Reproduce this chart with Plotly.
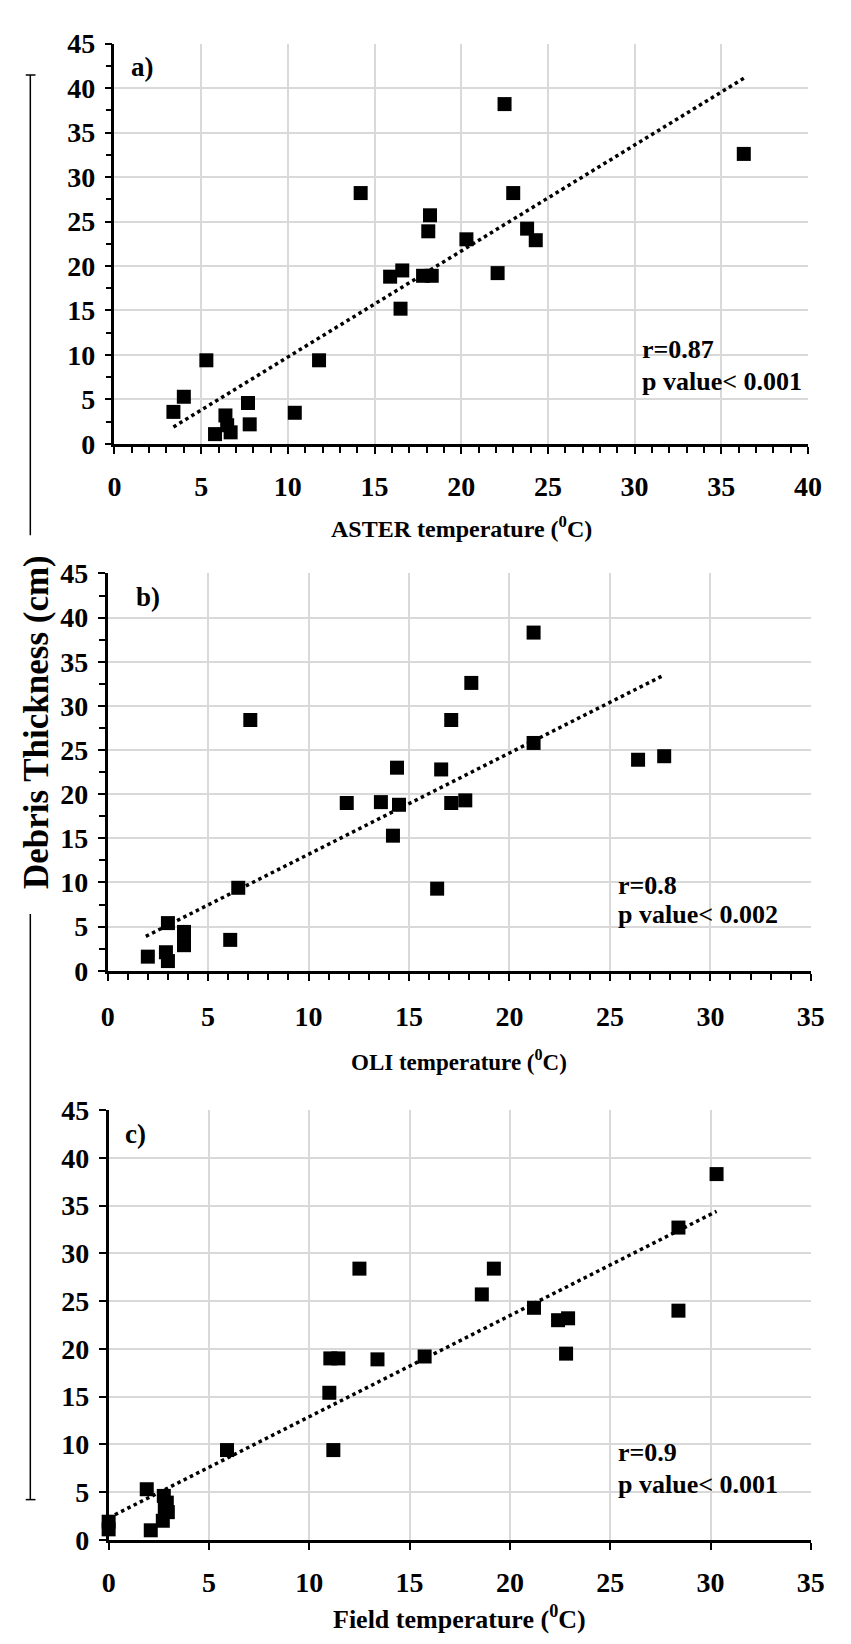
import plotly.graph_objects as go

W, H = 851, 1644

# ---- data ----
a_x = [3.4, 4.0, 5.3, 5.8, 6.4, 6.5, 6.7, 7.7, 7.8, 10.4, 11.8, 14.2, 15.9, 16.6, 16.5,
       17.8, 18.3, 18.1, 18.2, 20.3, 22.1, 22.5, 23.0, 23.8, 24.3, 36.3]
a_y = [3.6, 5.3, 9.4, 1.1, 3.2, 2.1, 1.3, 4.6, 2.2, 3.5, 9.4, 28.2, 18.8, 19.5, 15.2,
       18.9, 18.9, 23.9, 25.7, 23.0, 19.2, 38.2, 28.2, 24.2, 22.9, 32.6]
a_trend_x = [3.4, 36.3]
a_trend_y = [1.9, 41.1]

b_x = [2.0, 2.9, 3.0, 3.0, 3.8, 3.8, 6.1, 6.5, 7.1, 11.9, 13.6, 14.5, 14.4, 14.2,
       16.6, 16.4, 17.1, 17.1, 17.8, 18.1, 21.2, 21.2, 26.4, 27.7]
b_y = [1.6, 2.1, 1.1, 5.4, 4.4, 2.9, 3.5, 9.4, 28.4, 19.0, 19.1, 18.8, 23.0, 15.3,
       22.8, 9.3, 28.4, 19.0, 19.3, 32.6, 38.3, 25.8, 23.9, 24.3]
b_trend_x = [1.9, 27.7]
b_trend_y = [3.9, 33.5]

c_x = [0.0, 0.0, 2.1, 1.9, 2.75, 2.9, 2.8, 2.95, 2.7, 5.9, 11.0, 11.2, 11.05, 11.45,
       12.5, 13.4, 15.75, 18.6, 19.2, 21.2, 22.4, 22.9, 22.8, 28.4, 28.4, 30.3]
c_y = [1.1, 1.9, 1.0, 5.3, 4.6, 3.9, 3.3, 2.9, 2.0, 9.4, 15.4, 9.4, 19.0, 19.0,
       28.4, 18.9, 19.2, 25.7, 28.4, 24.3, 23.0, 23.2, 19.5, 32.7, 24.0, 38.3]
c_trend_x = [0.0, 30.3]
c_trend_y = [2.3, 34.4]

panel_labels = ["a)", "b)", "c)"]
x_titles = ["ASTER temperature (<sup>0</sup>C)", "OLI temperature (<sup>0</sup>C)",
            "Field temperature (<sup>0</sup>C)"]
r_texts = ["r=0.87", "r=0.8", "r=0.9"]
p_texts = ["p value< 0.001", "p value< 0.002", "p value< 0.001"]
y_title = "Debris Thickness (cm)"
x_ranges = [[0, 40], [0, 35], [0, 35]]
y_range = [0, 45]
y_ticks = [0, 5, 10, 15, 20, 25, 30, 35, 40, 45]
x_ticks = [[0, 5, 10, 15, 20, 25, 30, 35, 40], [0, 5, 10, 15, 20, 25, 30, 35],
           [0, 5, 10, 15, 20, 25, 30, 35]]

FONT = "Liberation Serif"
TICK_SIZE = 28

# ---- layout geometry (pixels) ----
# (left, right, top, bottom)
boxes = [(102, 813, 21, 429), (95, 816, 561, 966), (96, 816, 1108, 1546)]


def px_x(p):
    return p / W


def px_y(p):
    return 1 - p / H


fig = go.Figure()

series = [(a_x, a_y, a_trend_x, a_trend_y), (b_x, b_y, b_trend_x, b_trend_y),
          (c_x, c_y, c_trend_x, c_trend_y)]

for i, (sx, sy, tx, ty) in enumerate(series):
    xa = "x" if i == 0 else f"x{i+1}"
    ya = "y" if i == 0 else f"y{i+1}"
    fig.add_trace(go.Scatter(x=tx, y=ty, mode="lines", xaxis=xa, yaxis=ya,
                             line=dict(color="black", width=3.5, dash="dot"),
                             showlegend=False, hoverinfo="skip"))
    fig.add_trace(go.Scatter(x=sx, y=sy, mode="markers", xaxis=xa, yaxis=ya,
                             marker=dict(symbol="square", size=14, color="black",
                                         line=dict(width=0)),
                             cliponaxis=False, showlegend=False))

fig.update_layout(width=W, height=H, margin=dict(l=0, r=0, t=0, b=0),
                  paper_bgcolor="white", plot_bgcolor="white",
                  font=dict(family=FONT, color="black", size=TICK_SIZE))

x_standoffs = [9, 12, 9]
x_title_y = [514, 1057, 1625]
x_title_size = [24, 23, 26]
annotations = []
shapes = []

for i, (l, r, t, b) in enumerate(boxes):
    ya_name = "y" if i == 0 else f"y{i+1}"
    xa_name = "x" if i == 0 else f"x{i+1}"
    minor = (i < 2)
    xax = dict(domain=[px_x(l), px_x(r)], range=x_ranges[i], anchor=ya_name,
               showgrid=True, gridcolor="#d9d9d9", gridwidth=2, zeroline=False,
               showline=True, linecolor="black", linewidth=2.5,
               ticks="outside", ticklen=7, tickwidth=2, tickcolor="black",
               tickmode="array", tickvals=x_ticks[i],
               ticktext=[f"<b>{v}</b>" for v in x_ticks[i]],
               tickfont=dict(family=FONT, size=TICK_SIZE, color="black"),
               ticklabelstandoff=x_standoffs[i], fixedrange=True)
    yax = dict(domain=[px_y(b), px_y(t)], range=y_range, anchor=xa_name,
               showgrid=True, gridcolor="#d9d9d9", gridwidth=2, zeroline=False,
               showline=True, linecolor="black", linewidth=2.5,
               ticks="outside", ticklen=7, tickwidth=2, tickcolor="black",
               tickmode="array", tickvals=y_ticks,
               ticktext=[f"<b>{v}</b>" for v in y_ticks],
               tickfont=dict(family=FONT, size=TICK_SIZE, color="black"),
               ticklabelstandoff=4, fixedrange=True)
    if minor:
        xax["minor"] = dict(dtick=1, tick0=0, ticks="outside", ticklen=6,
                            tickwidth=2, tickcolor="black", showgrid=False)
        yax["minor"] = dict(dtick=2.5, tick0=0, ticks="outside", ticklen=6,
                            tickwidth=2, tickcolor="black", showgrid=False)
    if i == 0:
        fig.update_layout(xaxis=xax, yaxis=yax)
    else:
        fig.update_layout(**{f"xaxis{i+1}": xax, f"yaxis{i+1}": yax})

    # x title
    annotations.append(dict(text="<b>" + x_titles[i] + "</b>", xref="paper", yref="paper",
                            x=px_x((l + r) / 2), y=px_y(x_title_y[i]),
                            xanchor="center", yanchor="middle", showarrow=False,
                            font=dict(family=FONT, size=x_title_size[i])))
    # panel label
    annotations.append(dict(text="<b>" + panel_labels[i] + "</b>", xref="paper", yref="paper",
                            x=px_x(l + 15 if i != 1 else l + 27), y=px_y(t + 24),
                            xanchor="left", yanchor="middle", showarrow=False,
                            font=dict(family=FONT, size=27)))

r_pos = [(30.3, 10.6, 7.0), (25.3, 9.7, 6.4), (25.3, 9.1, 5.8)]
for i, (rx, ry, py) in enumerate(r_pos):
    xa_name = "x" if i == 0 else f"x{i+1}"
    ya_name = "y" if i == 0 else f"y{i+1}"
    annotations.append(dict(text="<b>" + r_texts[i] + "</b>", xref=xa_name, yref=ya_name,
                            x=rx, y=ry, xanchor="left", yanchor="middle", showarrow=False,
                            font=dict(family=FONT, size=26)))
    annotations.append(dict(text="<b>" + p_texts[i] + "</b>", xref=xa_name, yref=ya_name,
                            x=rx, y=py, xanchor="left", yanchor="middle", showarrow=False,
                            font=dict(family=FONT, size=26)))

# y title
annotations.append(dict(text="<b>" + y_title + "</b>", xref="paper", yref="paper",
                        x=px_x(22), y=px_y(712), xanchor="center", yanchor="middle",
                        textangle=-90, showarrow=False, font=dict(family=FONT, size=35)))


# bracket decoration
def pline(x0, y0, x1, y1):
    shapes.append(dict(type="line", xref="paper", yref="paper",
                       x0=px_x(x0), y0=px_y(y0), x1=px_x(x1), y1=px_y(y1),
                       line=dict(color="black", width=1.5)))


pline(15.7, 53, 15.7, 522)
pline(11, 53, 21, 53)
pline(15.7, 908, 15.7, 1505)
pline(11, 1505, 21, 1505)

fig.update_layout(annotations=annotations, shapes=shapes)

fig.write_html("out.html")
